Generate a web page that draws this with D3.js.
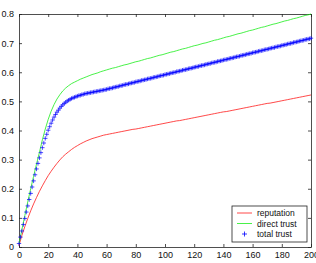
<!DOCTYPE html>
<html>
<head>
<meta charset="utf-8">
<script src="https://cdn.jsdelivr.net/npm/d3@7"></script>
<style>
  body { margin: 0; background: #fff; }
  svg text { font-family: "Liberation Sans", Arial, sans-serif; }
</style>
</head>
<body>
<div id="chart"></div>
<script>
// x positions of the line samples (every 2 steps)
var steps = [
  0, 2, 4, 6, 8, 10, 12, 14, 16, 18, 20, 22, 24, 26, 28, 30, 32, 34, 36, 38,
  40, 42, 44, 46, 48, 50, 52, 54, 56, 58, 60, 62, 64, 66, 68, 70, 72, 74, 76, 78,
  80, 82, 84, 86, 88, 90, 92, 94, 96, 98, 100, 102, 104, 106, 108, 110, 112, 114, 116, 118,
  120, 122, 124, 126, 128, 130, 132, 134, 136, 138, 140, 142, 144, 146, 148, 150, 152, 154, 156, 158,
  160, 162, 164, 166, 168, 170, 172, 174, 176, 178, 180, 182, 184, 186, 188, 190, 192, 194, 196, 198,
  200
];

var reputation = [
  0.005, 0.040, 0.070, 0.098, 0.124, 0.148, 0.170, 0.191, 0.210, 0.228,
  0.245, 0.260, 0.274, 0.287, 0.299, 0.310, 0.319, 0.327, 0.335, 0.342,
  0.348, 0.354, 0.359, 0.364, 0.368, 0.372, 0.375, 0.378, 0.381, 0.384,
  0.386, 0.388, 0.390, 0.392, 0.394, 0.396, 0.398, 0.400, 0.402, 0.404,
  0.405, 0.407, 0.409, 0.411, 0.413, 0.415, 0.417, 0.419, 0.421, 0.423,
  0.425, 0.427, 0.429, 0.431, 0.433, 0.434, 0.436, 0.438, 0.440, 0.442,
  0.444, 0.446, 0.448, 0.450, 0.452, 0.454, 0.456, 0.458, 0.460, 0.462,
  0.464, 0.465, 0.467, 0.469, 0.471, 0.473, 0.475, 0.477, 0.479, 0.481,
  0.483, 0.485, 0.487, 0.489, 0.491, 0.493, 0.494, 0.496, 0.498, 0.500,
  0.502, 0.504, 0.506, 0.508, 0.510, 0.512, 0.514, 0.516, 0.518, 0.520,
  0.522
];

var directTrust = [
  0.010, 0.060, 0.108, 0.155, 0.200, 0.243, 0.285, 0.325, 0.368, 0.405,
  0.438, 0.466, 0.489, 0.508, 0.523, 0.536, 0.546, 0.554, 0.561, 0.566,
  0.571, 0.576, 0.580, 0.584, 0.588, 0.592, 0.595, 0.598, 0.602, 0.605,
  0.608, 0.611, 0.614, 0.616, 0.619, 0.622, 0.625, 0.627, 0.630, 0.633,
  0.636, 0.638, 0.641, 0.644, 0.647, 0.649, 0.652, 0.655, 0.658, 0.660,
  0.663, 0.666, 0.669, 0.671, 0.674, 0.677, 0.680, 0.682, 0.685, 0.688,
  0.691, 0.693, 0.696, 0.699, 0.701, 0.704, 0.707, 0.710, 0.712, 0.715,
  0.718, 0.721, 0.723, 0.726, 0.729, 0.732, 0.734, 0.737, 0.740, 0.743,
  0.745, 0.748, 0.751, 0.754, 0.756, 0.759, 0.762, 0.765, 0.767, 0.770,
  0.773, 0.776, 0.778, 0.781, 0.784, 0.786, 0.789, 0.792, 0.795, 0.797,
  0.800
];

// total trust is marked at every step 0..200
var totalTrust = [
  0.012, 0.034, 0.055, 0.077, 0.098, 0.120, 0.141, 0.163, 0.184, 0.206,
  0.227, 0.248, 0.268, 0.287, 0.306, 0.324, 0.341, 0.357, 0.373, 0.387,
  0.401, 0.413, 0.425, 0.436, 0.446, 0.455, 0.463, 0.470, 0.477, 0.483,
  0.488, 0.493, 0.497, 0.501, 0.504, 0.507, 0.510, 0.512, 0.514, 0.516,
  0.518, 0.520, 0.521, 0.523, 0.524, 0.526, 0.527, 0.528, 0.529, 0.530,
  0.531, 0.532, 0.533, 0.534, 0.535, 0.536, 0.537, 0.538, 0.539, 0.540,
  0.541, 0.543, 0.544, 0.545, 0.546, 0.548, 0.549, 0.550, 0.551, 0.553,
  0.554, 0.555, 0.557, 0.558, 0.559, 0.560, 0.562, 0.563, 0.564, 0.565,
  0.567, 0.568, 0.569, 0.570, 0.572, 0.573, 0.574, 0.575, 0.577, 0.578,
  0.579, 0.580, 0.582, 0.583, 0.584, 0.585, 0.587, 0.588, 0.589, 0.590,
  0.592, 0.593, 0.594, 0.595, 0.597, 0.598, 0.599, 0.600, 0.602, 0.603,
  0.604, 0.605, 0.607, 0.608, 0.609, 0.610, 0.612, 0.613, 0.614, 0.615,
  0.617, 0.618, 0.619, 0.620, 0.622, 0.623, 0.624, 0.625, 0.627, 0.628,
  0.629, 0.630, 0.632, 0.633, 0.634, 0.635, 0.637, 0.638, 0.639, 0.640,
  0.642, 0.643, 0.644, 0.645, 0.647, 0.648, 0.649, 0.650, 0.652, 0.653,
  0.654, 0.655, 0.657, 0.658, 0.659, 0.660, 0.662, 0.663, 0.664, 0.665,
  0.667, 0.668, 0.669, 0.670, 0.672, 0.673, 0.674, 0.675, 0.677, 0.678,
  0.679, 0.680, 0.682, 0.683, 0.684, 0.685, 0.687, 0.688, 0.689, 0.690,
  0.692, 0.693, 0.694, 0.695, 0.697, 0.698, 0.699, 0.700, 0.702, 0.703,
  0.704, 0.705, 0.707, 0.708, 0.709, 0.710, 0.712, 0.713, 0.714, 0.715,
  0.717
];

var xTicks = [0, 20, 40, 60, 80, 100, 120, 140, 160, 180, 200];
var yTicks = [0, 0.1, 0.2, 0.3, 0.4, 0.5, 0.6, 0.7, 0.8];
var legendNames = ["reputation", "direct trust", "total trust"];

var width = 316, height = 263;
var margin = {top: 14, right: 5, bottom: 16, left: 19};

var svg = d3.select("#chart").append("svg")
  .attr("width", width)
  .attr("height", height);

var x = d3.scaleLinear()
  .domain([0, 200])
  .range([margin.left, width - margin.right]);

var y = d3.scaleLinear()
  .domain([0, 0.8])
  .range([height - margin.bottom, margin.top]);

var axisColor = "#222";

// axes on all four sides, ticks pointing inward
svg.append("g")
  .attr("transform", `translate(0,${y(0)})`)
  .call(d3.axisBottom(x).tickValues(xTicks).tickSizeInner(-3).tickSizeOuter(0).tickPadding(5))
  .call(g => g.selectAll("text").attr("font-size", 9).attr("fill", "#111"));

svg.append("g")
  .attr("transform", `translate(${x(0)},0)`)
  .call(d3.axisLeft(y).tickValues(yTicks).tickFormat(d => d === 0 ? "0" : d3.format(".1f")(d))
    .tickSizeInner(-3).tickSizeOuter(0).tickPadding(5))
  .call(g => g.selectAll("text").attr("font-size", 9).attr("fill", "#111"));

svg.append("g")
  .attr("transform", `translate(0,${y(0.8)})`)
  .call(d3.axisTop(x).tickValues(xTicks).tickSizeInner(-3).tickSizeOuter(0).tickFormat(""));

svg.append("g")
  .attr("transform", `translate(${x(200)},0)`)
  .call(d3.axisRight(y).tickValues(yTicks).tickSizeInner(-3).tickSizeOuter(0).tickFormat(""));

svg.selectAll(".domain, .tick line").attr("stroke", axisColor).attr("stroke-width", 0.8);

var data = steps.map((s, i) => ({x: s, rep: reputation[i], dir: directTrust[i]}));
var marks = totalTrust.map((v, i) => ({x: i, tot: v}));

var plot = svg.append("g");

plot.append("path")
  .datum(data)
  .attr("fill", "none")
  .attr("stroke", "#ff1a1a")
  .attr("stroke-width", 0.8)
  .attr("d", d3.line().x(d => x(d.x)).y(d => y(d.rep)));

plot.append("path")
  .datum(data)
  .attr("fill", "none")
  .attr("stroke", "#1aee1a")
  .attr("stroke-width", 0.8)
  .attr("d", d3.line().x(d => x(d.x)).y(d => y(d.dir)));

var plus = "M-2.2,0H2.2M0,-2.2V2.2";

plot.append("g")
  .selectAll("path")
  .data(marks)
  .join("path")
  .attr("transform", d => `translate(${x(d.x)},${y(d.tot)})`)
  .attr("d", plus)
  .attr("stroke", "#0000ff")
  .attr("stroke-width", 0.7)
  .attr("fill", "none");

// legend
var lg = svg.append("g").attr("transform", "translate(232,206)");
lg.append("rect")
  .attr("width", 75)
  .attr("height", 36)
  .attr("fill", "#fff")
  .attr("stroke", axisColor)
  .attr("stroke-width", 0.8);

var legendColors = ["#ff1a1a", "#1aee1a", "#0000ff"];
legendNames.forEach((name, i) => {
  var ly = 7 + i * 10.5;
  if (i < 2) {
    lg.append("line")
      .attr("x1", 5).attr("x2", 20)
      .attr("y1", ly).attr("y2", ly)
      .attr("stroke", legendColors[i])
      .attr("stroke-width", 0.8);
  } else {
    lg.append("path")
      .attr("transform", `translate(12.5,${ly})`)
      .attr("d", "M-2.5,0H2.5M0,-2.5V2.5")
      .attr("stroke", legendColors[i])
      .attr("stroke-width", 0.8);
  }
  lg.append("text")
    .attr("x", 25)
    .attr("y", ly + 3)
    .attr("font-size", 8.5)
    .attr("fill", "#111")
    .text(name);
});
</script>
</body>
</html>
